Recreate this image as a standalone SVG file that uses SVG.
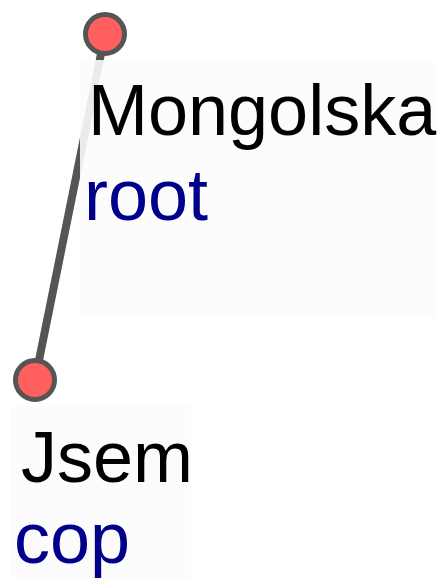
<svg xmlns="http://www.w3.org/2000/svg" width="447" height="578" viewBox="0 0 447 578">
<style>
.edge{stroke:#555;stroke-width:8;stroke-linecap:butt;fill:none}
.dot{fill:#ff5f5f;stroke:#555;stroke-width:5}
.box{fill:#fcfcfc;fill-opacity:0.9}
.form{font-family:"Liberation Sans",Arial,sans-serif;font-size:72px;fill:#000}
.rel{font-family:"Liberation Sans",Arial,sans-serif;font-size:72px;fill:#00008b}
</style>
<rect width="447" height="578" fill="#fff"/>
<g id="connectors">
<line class="edge" x1="105" y1="34" x2="35" y2="380"/>
</g>
<g id="node-root">
<circle class="dot" cx="105" cy="34" r="19.5"/>
<rect class="box" x="80" y="60" width="355" height="258"/>
<text class="form" x="88" y="135">Mongolska</text>
<text class="rel" x="84" y="220">root</text>
</g>
<g id="node-cop">
<circle class="dot" cx="35" cy="380" r="19.5"/>
<rect class="box" x="10" y="406" width="181" height="172"/>
<text class="form" x="21" y="482">Jsem</text>
<text class="rel" x="14" y="563">cop</text>
</g>
</svg>
